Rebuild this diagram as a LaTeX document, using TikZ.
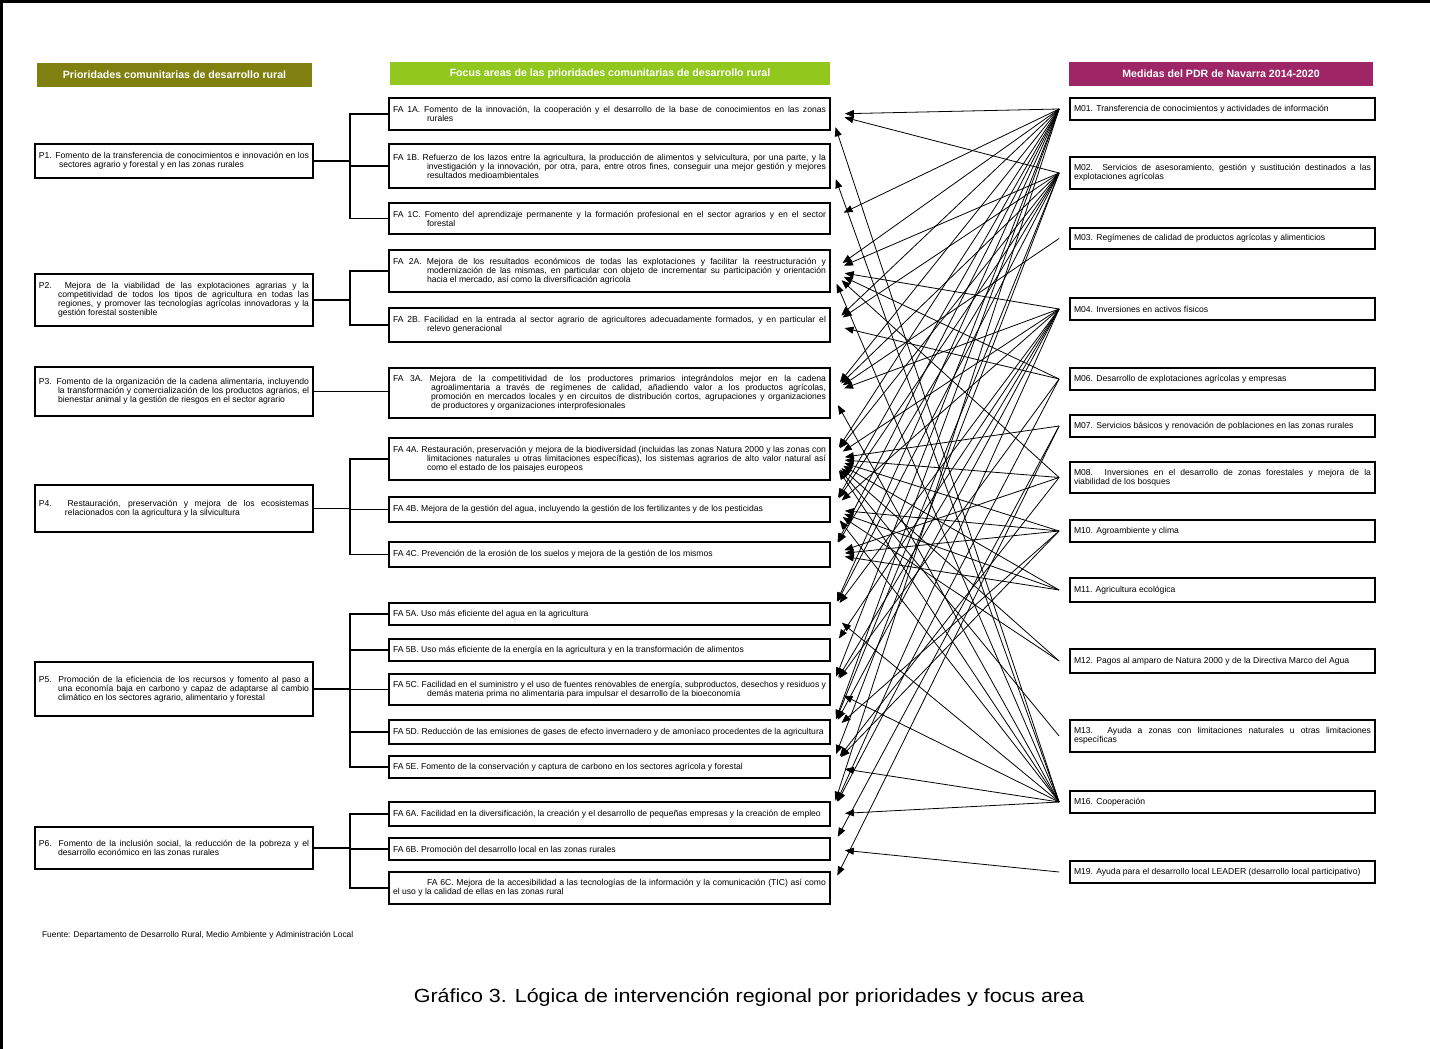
\documentclass[tikz,border=0pt]{standalone}
\usepackage{fontspec}
\setmainfont{Liberation Sans}
\usetikzlibrary{arrows.meta,calc}

\definecolor{olivehead}{RGB}{128,128,16}
\definecolor{limehead}{RGB}{146,200,30}
\definecolor{plumhead}{RGB}{158,38,102}

\newcommand{\boxfont}{\fontsize{4.3}{4.5}\selectfont\hyphenpenalty=10000\exhyphenpenalty=10000}
\newcommand{\headfont}{\fontsize{5.3}{6}\selectfont\bfseries}
\newcommand{\ptext}[2]{\parbox{135pt}{\hangindent=#1\hangafter=1\relax #2}}
\newcommand{\fatext}[2]{\parbox{216.5pt}{\hangindent=#1\hangafter=1\relax #2}}
\newcommand{\mtext}[1]{\parbox{148.5pt}{#1}}

\tikzset{
	head/.style={minimum height=12pt, text=white, font=\headfont, inner sep=0pt},
	pbox/.style={draw, line width=0.9pt, minimum width=139pt, inner xsep=2pt, inner ysep=1pt, font=\boxfont},
	fabox/.style={pbox, minimum width=220.5pt},
	mbox/.style={pbox, minimum width=152.5pt},
	tree/.style={line width=0.7pt},
	arr/.style={-{Triangle[length=4.5pt,width=3.5pt]}, line width=0.4pt}
}

\begin{document}
\begin{tikzpicture}[x=0.5pt, y=-0.5pt]
	\useasboundingbox (0,0) rectangle (1430,1049);
	\draw[line width=1.5pt] (1,1049) -- (1,1) -- (1430,1);

	\node[head, fill=olivehead, minimum width=137.5pt] (hp) at (174.5,74.5) {Prioridades comunitarias de desarrollo rural};
	\node[head, fill=limehead, minimum width=220pt, minimum height=11.5pt] (hfa) at (610,73.5) {Focus areas de las prioridades comunitarias de desarrollo rural};
	\node[head, fill=plumhead, minimum width=152pt] (hm) at (1221,74) {Medidas del PDR de Navarra 2014-2020};

	\node[pbox, minimum height=17pt] (p1) at (174,161) {\ptext{10pt}{P1. Fomento de la transferencia de conocimientos e innovación en los sectores agrario y forestal y en las zonas rurales}};
	\node[pbox, minimum height=26pt] (p2) at (174,300) {\ptext{9.5pt}{P2. Mejora de la viabilidad de las explotaciones agrarias y la competitividad de todos los tipos de agricultura en todas las regiones, y promover las tecnologías agrícolas innovadoras y la gestión forestal sostenible}};
	\node[pbox, minimum height=24.5pt] (p3) at (174,391.5) {\ptext{9.5pt}{P3. Fomento de la organización de la cadena alimentaria, incluyendo la transformación y comercialización de los productos agrarios, el bienestar animal y la gestión de riesgos en el sector agrario}};
	\node[pbox, minimum height=23.5pt] (p4) at (174,508.5) {\ptext{13pt}{P4. Restauración, preservación y mejora de los ecosistemas relacionados con la agricultura y la silvicultura}};
	\node[pbox, minimum height=27pt] (p5) at (174,689) {\ptext{9.5pt}{P5. Promoción de la eficiencia de los recursos y fomento al paso a una economía baja en carbono y capaz de adaptarse al cambio climático en los sectores agrario, alimentario y forestal}};
	\node[pbox, minimum height=21pt] (p6) at (174,848) {\ptext{9.5pt}{P6. Fomento de la inclusión social, la reducción de la pobreza y el desarrollo económico en las zonas rurales}};

	\node[fabox, minimum height=16pt] (fa1a) at (609.5,114) {\fatext{17pt}{FA 1A. Fomento de la innovación, la cooperación y el desarrollo de la base de conocimientos en las zonas\linebreak rurales}};
	\node[fabox, minimum height=22pt] (fa1b) at (609.5,166) {\fatext{17pt}{FA 1B. Refuerzo de los lazos entre la agricultura, la producción de alimentos y selvicultura, por una parte, y la investigación y la innovación, por otra, para, entre otros fines, conseguir una mejor gestión y mejores resultados medioambientales}};
	\node[fabox, minimum height=15.5pt] (fa1c) at (609.5,218.5) {\fatext{17pt}{FA 1C. Fomento del aprendizaje permanente y la formación profesional en el sector agrarios y en el sector\linebreak forestal}};
	\node[fabox, minimum height=21pt] (fa2a) at (609.5,271) {\fatext{17pt}{FA 2A. Mejora de los resultados económicos de todas las explotaciones y facilitar la reestructuración y modernización de las mismas, en particular con objeto de incrementar su participación y orientación\linebreak hacia el mercado, así como la diversificación agrícola}};
	\node[fabox, minimum height=17pt] (fa2b) at (609.5,325) {\fatext{17pt}{FA 2B. Facilidad en la entrada al sector agrario de agricultores adecuadamente formados, y en particular el\linebreak relevo generacional}};
	\node[fabox, minimum height=25pt] (fa3a) at (609.5,393) {\fatext{19pt}{FA 3A. Mejora de la competitividad de los productores primarios integrándolos mejor en la cadena\linebreak agroalimentaria a través de regímenes de calidad, añadiendo valor a los productos agrícolas,\linebreak promoción en mercados locales y en circuitos de distribución cortos, agrupaciones y organizaciones\linebreak de productores y organizaciones interprofesionales}};
	\node[fabox, minimum height=21pt] (fa4a) at (609.5,459) {\fatext{17pt}{FA 4A. Restauración, preservación y mejora de la biodiversidad (incluidas las zonas Natura 2000 y las zonas con limitaciones naturales u otras limitaciones específicas), los sistemas agrarios de alto valor natural así\linebreak como el estado de los paisajes europeos}};
	\node[fabox, minimum height=12.5pt] (fa4b) at (609.5,509.5) {\fatext{0pt}{FA 4B. Mejora de la gestión del agua, incluyendo la gestión de los fertilizantes y de los pesticidas}};
	\node[fabox, minimum height=12.5pt] (fa4c) at (609.5,554.5) {\fatext{0pt}{FA 4C. Prevención de la erosión de los suelos y mejora de la gestión de los mismos}};
	\node[fabox, minimum height=11pt] (fa5a) at (609.5,614) {\fatext{0pt}{FA 5A. Uso más eficiente del agua en la agricultura}};
	\node[fabox, minimum height=11pt] (fa5b) at (609.5,650) {\fatext{0pt}{FA 5B. Uso más eficiente de la energía en la agricultura y en la transformación de alimentos}};
	\node[fabox, minimum height=15.5pt] (fa5c) at (609.5,689.5) {\fatext{17pt}{FA 5C. Facilidad en el suministro y el uso de fuentes renovables de energía, subproductos, desechos y residuos y demás materia prima no alimentaria para impulsar el desarrollo de la bioeconomía}};
	\node[fabox, minimum height=12pt] (fa5d) at (609.5,732) {\fatext{0pt}{FA 5D. Reducción de las emisiones de gases de efecto invernadero y de amoníaco procedentes de la agricultura}};
	\node[fabox, minimum height=11pt] (fa5e) at (609.5,767) {\fatext{0pt}{FA 5E. Fomento de la conservación y captura de carbono en los sectores agrícola y forestal}};
	\node[fabox, minimum height=12pt] (fa6a) at (609.5,814) {\fatext{0pt}{FA 6A. Facilidad en la diversificación, la creación y el desarrollo de pequeñas empresas y la creación de empleo}};
	\node[fabox, minimum height=11pt] (fa6b) at (609.5,849) {\fatext{0pt}{FA 6B. Promoción del desarrollo local en las zonas rurales}};
	\node[fabox, minimum height=16pt] (fa6c) at (609.5,888) {\fatext{0pt}{\hspace*{17pt}FA 6C. Mejora de la accesibilidad a las tecnologías de la información y la comunicación (TIC) así como\linebreak el uso y la calidad de ellas en las zonas rural}};

	\node[mbox, minimum height=11pt] (m01) at (1222.5,109) {\mtext{M01. Transferencia de conocimientos y actividades de información}};
	\node[mbox, minimum height=16pt] (m02) at (1222.5,173) {\mtext{M02. Servicios de asesoramiento, gestión y sustitución destinados a las explotaciones agrícolas}};
	\node[mbox, minimum height=10.5pt] (m03) at (1222.5,238.5) {\mtext{M03. Regímenes de calidad de productos agrícolas y alimenticios}};
	\node[mbox, minimum height=11pt] (m04) at (1222.5,309) {\mtext{M04. Inversiones en activos físicos}};
	\node[mbox, minimum height=11pt] (m06) at (1222.5,379) {\mtext{M06. Desarrollo de explotaciones agrícolas y empresas}};
	\node[mbox, minimum height=11pt] (m07) at (1222.5,426) {\mtext{M07. Servicios básicos y renovación de poblaciones en las zonas rurales}};
	\node[mbox, minimum height=15.5pt] (m08) at (1222.5,477.5) {\mtext{M08. Inversiones en el desarrollo de zonas forestales y mejora de la\linebreak viabilidad de los bosques}};
	\node[mbox, minimum height=11pt] (m10) at (1222.5,531) {\mtext{M10. Agroambiente y clima}};
	\node[mbox, minimum height=12pt] (m11) at (1222.5,590) {\mtext{M11. Agricultura ecológica}};
	\node[mbox, minimum height=12pt] (m12) at (1222.5,661) {\mtext{M12. Pagos al amparo de Natura 2000 y de la Directiva Marco del Agua}};
	\node[mbox, minimum height=16pt] (m13) at (1222.5,736) {\mtext{M13. Ayuda a zonas con limitaciones naturales u otras limitaciones\linebreak específicas}};
	\node[mbox, minimum height=11pt] (m16) at (1222.5,802) {\mtext{M16. Cooperación}};
	\node[mbox, minimum height=11pt] (m19) at (1222.5,872) {\mtext{M19. Ayuda para el desarrollo local LEADER (desarrollo local participativo)}};

	\coordinate (trunk) at (350,0);
	\draw[tree] (p1.east) -- (p1.east -| trunk);
	\draw[tree] (fa1a.west) -| (trunk |- fa1c.west) -- (fa1c.west);
	\draw[tree] (fa1b.west) -- (fa1b.west -| trunk);
	\draw[tree] (p2.east) -- (p2.east -| trunk);
	\draw[tree] (fa2a.west) -| (trunk |- fa2b.west) -- (fa2b.west);
	\draw[tree] (p3.east) -- (p3.east -| fa3a.west);
	\draw[tree] (p4.east) -- (p4.east -| trunk);
	\draw[tree] (fa4a.west) -| (trunk |- fa4c.west) -- (fa4c.west);
	\draw[tree] (fa4b.west) -- (fa4b.west -| trunk);
	\draw[tree] (p5.east) -- (p5.east -| trunk);
	\draw[tree] (fa5a.west) -| (trunk |- fa5e.west) -- (fa5e.west);
	\foreach \f in {5b,5c,5d}
		\draw[tree] (fa\f.west) -- (fa\f.west -| trunk);
	\draw[tree] (p6.east) -- (p6.east -| trunk);
	\draw[tree] (fa6a.west) -| (trunk |- fa6c.west) -- (fa6c.west);
	\draw[tree] (fa6b.west) -- (fa6b.west -| trunk);

	\foreach \m/\f in {01/1a,01/1c,01/2a,01/2b,01/3a,01/4a,01/4b,01/4c,01/5a,01/5c,01/5d,01/6a,
		02/1a,02/2a,02/2b,02/3a,02/4a,02/4b,02/4c,02/5a,02/5d,02/5e,
		03/3a,
		04/2a,04/3a,04/4a,04/4b,04/5a,04/5b,04/5c,04/5d,04/6a,
		06/2a,06/2b,06/5c,06/6a,
		07/4a,07/6b,07/6c,
		08/2a,08/4a,08/4c,08/5e,
		10/4a,10/4b,10/4c,10/5d,10/5e,
		11/4a,11/4b,11/4c,
		12/4a,12/4b,
		13/4a,
		16/1a,16/1b,16/2a,16/3a,16/4a,16/4b,16/5a,16/5c,16/5e,16/6a,
		19/6b}
		\draw[arr] ([xshift=-5pt]m\m.west) -- ($(fa\f.east)!7pt!(m\m.west)$);

	\node[anchor=west, font=\fontsize{4.2}{5}\selectfont] (src) at (35,935) {Fuente: Departamento de Desarrollo Rural, Medio Ambiente y Administración Local};
	\node[font=\fontsize{9.5}{11}\selectfont] (cap) at (749,997) {\scalebox{1.13}[1]{Gráfico 3. Lógica de intervención regional por prioridades y focus area}};
\end{tikzpicture}
\end{document}
